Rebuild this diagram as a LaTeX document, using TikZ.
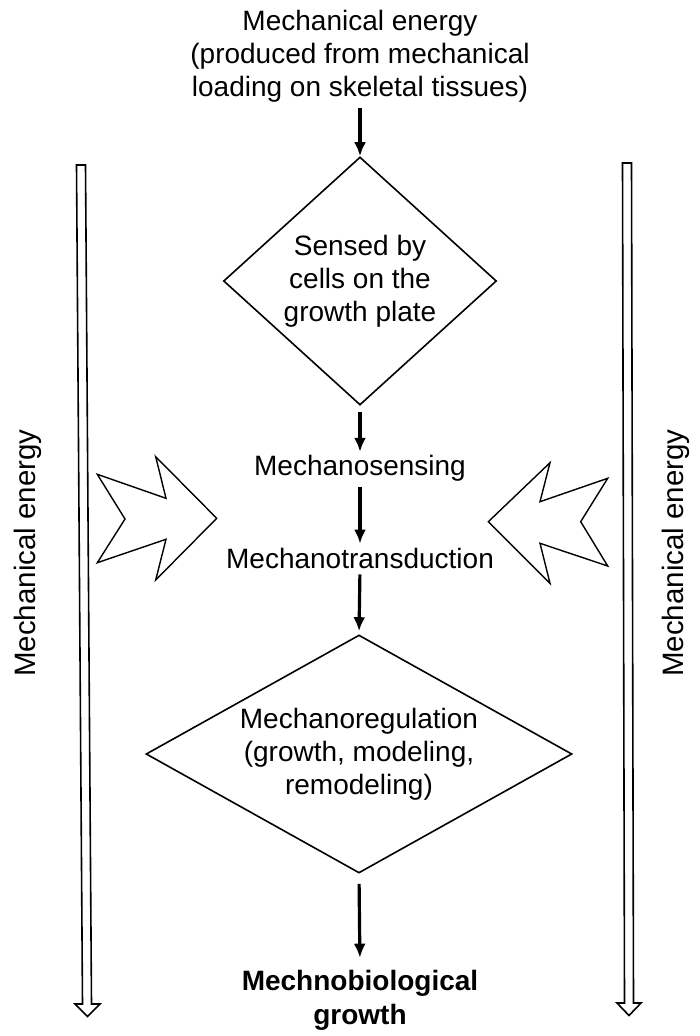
\documentclass[tikz,border=0pt]{standalone}
\usepackage{fontspec}
\setmainfont{Liberation Sans}
\usetikzlibrary{shapes.geometric,arrows.meta}
\begin{document}
\begin{tikzpicture}[x=1pt,y=-1pt,
  txt/.style={font=\fontsize{28}{33}\selectfont, align=center, inner sep=0pt},
  dia/.style={draw, diamond, line width=1.6pt, inner sep=0pt, align=center, font=\fontsize{28}{33}\selectfont},
  arr/.style={line width=3.2pt, -{Latex[length=14pt,width=12pt]}},
  hollow/.style={draw, line width=1.6pt, fill=white, line join=miter},
  side/.style={font=\fontsize{29.5}{33}\selectfont, rotate=90, inner sep=0pt}]
\useasboundingbox (0,0) rectangle (700,1036);

% vertical hollow arrows
\draw[hollow] (76.5,165) -- (85.5,165) -- (91.5,1004) -- (100,1004) -- (87.5,1016.5) -- (75,1004) -- (82.5,1004) -- cycle;
\draw[hollow] (622.5,163) -- (631.5,163) -- (633.5,1003) -- (641,1003) -- (629,1015.5) -- (617,1003) -- (624.5,1003) -- cycle;

% side labels
\node[side] (lside) at (28,553) {Mechanical energy};
\node[side] (rside) at (676,553) {Mechanical energy};

% notched arrows
\draw[hollow, line width=1.4pt] (216.7,518.3) -- (155.7,456.7) -- (166,498.3) -- (97.3,474.3) -- (125,519) -- (97.3,562.7) -- (166,539.3) -- (155.7,580) -- cycle;
\draw[hollow, line width=1.4pt] (488.3,521.7) -- (550,462.7) -- (540,501.7) -- (607.7,478.3) -- (580.7,521.7) -- (607.7,566) -- (540,543.3) -- (550,583.3) -- cycle;

% nodes
\node[txt] (top) at (360,56) {Mechanical energy\\(produced from mechanical\\loading on skeletal tissues)};
\node[dia, aspect=1.1, minimum width=273pt, minimum height=248pt] (d1) at (360,281) {Sensed by\\cells on the\\growth plate};
\node[txt] (ms) at (360,468) {Mechanosensing};
\node[txt] (mt) at (360,558) {Mechanotransduction};
\node[dia, aspect=1.79, minimum width=426pt, minimum height=238pt, inner sep=-2pt] (d2) at (359,754) {Mechanoregulation\\(growth, modeling,\\remodeling)};
\node[txt, font=\fontsize{28}{34}\selectfont\bfseries] (bot) at (360,1000) {Mechnobiological\\growth};

% connectors
\draw[arr, shorten <=6pt] (top.south) -- (d1.north);
\draw[arr, shorten <=6pt, shorten >=3pt] (d1.south) -- (ms.north);
\draw[arr, shorten <=6pt, shorten >=4pt] (ms.south) -- (mt.north);
\draw[arr, shorten <=6pt, shorten >=3pt] (mt.south) -- (d2.north);
\draw[arr, shorten <=10pt, shorten >=12pt] (d2.south) -- (bot.north);
\end{tikzpicture}
\end{document}
